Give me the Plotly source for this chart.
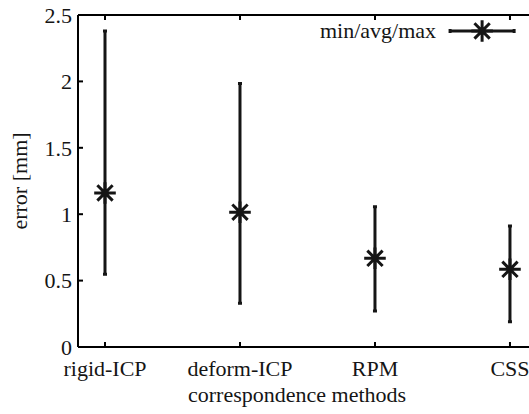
import plotly.graph_objects as go

methods = ["rigid-ICP", "deform-ICP", "RPM", "CSS"]
err_min = [0.547, 0.33, 0.271, 0.19]
err_avg = [1.16, 1.015, 0.668, 0.585]
err_max = [2.38, 1.985, 1.056, 0.911]
y_ticks = [0, 0.5, 1, 1.5, 2, 2.5]
y_tick_text = ["0", "0.5", "1", "1.5", "2", "2.5"]

# legend key placement (fractions of the plot area)
legend_x, legend_y, legend_half = 0.896, 0.952, 0.071

INK = "#151515"
FONT = "Liberation Serif, Times New Roman, serif"

X0, X1 = -0.2, 3.141
Y0, Y1 = 0, 2.5
W, H = 529, 414
ML, MT, MB = 78, 15, 67
PW, PH = W - ML, H - MT - MB
TICK = 5  # px

xi = list(range(len(methods)))
fig = go.Figure()
fig.add_trace(go.Scatter(
    x=xi, y=err_avg, mode="markers",
    marker=dict(symbol="asterisk-open", size=18, color=INK, line=dict(color=INK, width=3)),
    error_y=dict(type="data", symmetric=False,
                 array=[mx - a for mx, a in zip(err_max, err_avg)],
                 arrayminus=[a - mn for a, mn in zip(err_avg, err_min)],
                 color=INK, thickness=3, width=2),
    showlegend=False, cliponaxis=False,
))

# legend key, converted from plot-area fractions to axis units
fig.add_trace(go.Scatter(
    x=[X0 + legend_x * (X1 - X0)], y=[Y0 + legend_y * (Y1 - Y0)], mode="markers",
    marker=dict(symbol="asterisk-open", size=18, color=INK, line=dict(color=INK, width=3)),
    error_x=dict(type="constant", value=legend_half * (X1 - X0), color=INK, thickness=3, width=2),
    showlegend=False, cliponaxis=False, hoverinfo="skip",
))
fig.add_annotation(x=0.798, y=legend_y, xref="paper", yref="paper", text="min/avg/max",
                   showarrow=False, xanchor="right", yanchor="middle",
                   font=dict(family=FONT, size=22, color=INK))
fig.add_annotation(x=0.4856, y=-0.1416, xref="paper", yref="paper",
                   text="correspondence methods", showarrow=False,
                   xanchor="center", yanchor="middle",
                   font=dict(family=FONT, size=22, color=INK))

# frame: left, bottom, top (right side is cut off in the original)
frame = dict(color="#000000", width=2)
fig.add_shape(type="line", xref="paper", yref="paper", x0=0, x1=0, y0=0, y1=1, line=frame, layer="above")
fig.add_shape(type="line", xref="paper", yref="paper", x0=0, x1=1.01, y0=0, y1=0, line=frame, layer="above")
fig.add_shape(type="line", xref="paper", yref="paper", x0=0, x1=1.01, y0=1, y1=1, line=frame, layer="above")
# inward ticks
for v in xi:
    fig.add_shape(type="line", xref="x", yref="paper", x0=v, x1=v, y0=0, y1=TICK / PH, line=frame)
    fig.add_shape(type="line", xref="x", yref="paper", x0=v, x1=v, y0=1, y1=1 - TICK / PH, line=frame)
for v in y_ticks:
    fig.add_shape(type="line", xref="paper", yref="y", x0=0, x1=TICK / PW, y0=v, y1=v, line=frame)

fig.update_layout(
    width=W, height=H,
    margin=dict(l=ML, r=0, t=MT, b=MB),
    paper_bgcolor="white", plot_bgcolor="white",
    font=dict(family=FONT, size=22, color=INK),
    xaxis=dict(
        range=[X0, X1], tickmode="array", tickvals=xi, ticktext=methods,
        showline=False, ticks="", showgrid=False, zeroline=False,
        ticklabeloverflow="allow", ticklabelstandoff=6,
    ),
    yaxis=dict(
        range=[Y0, Y1], tickmode="array", tickvals=y_ticks, ticktext=y_tick_text,
        showline=False, ticks="", showgrid=False, zeroline=False,
        title=dict(text="error [mm]", standoff=10, font=dict(size=22)),
        ticklabelstandoff=5,
    ),
)

fig.write_html(
    "out.html",
    config={"displayModeBar": False},
    post_script="document.body.style.margin='0';document.body.style.overflow='hidden';",
)
